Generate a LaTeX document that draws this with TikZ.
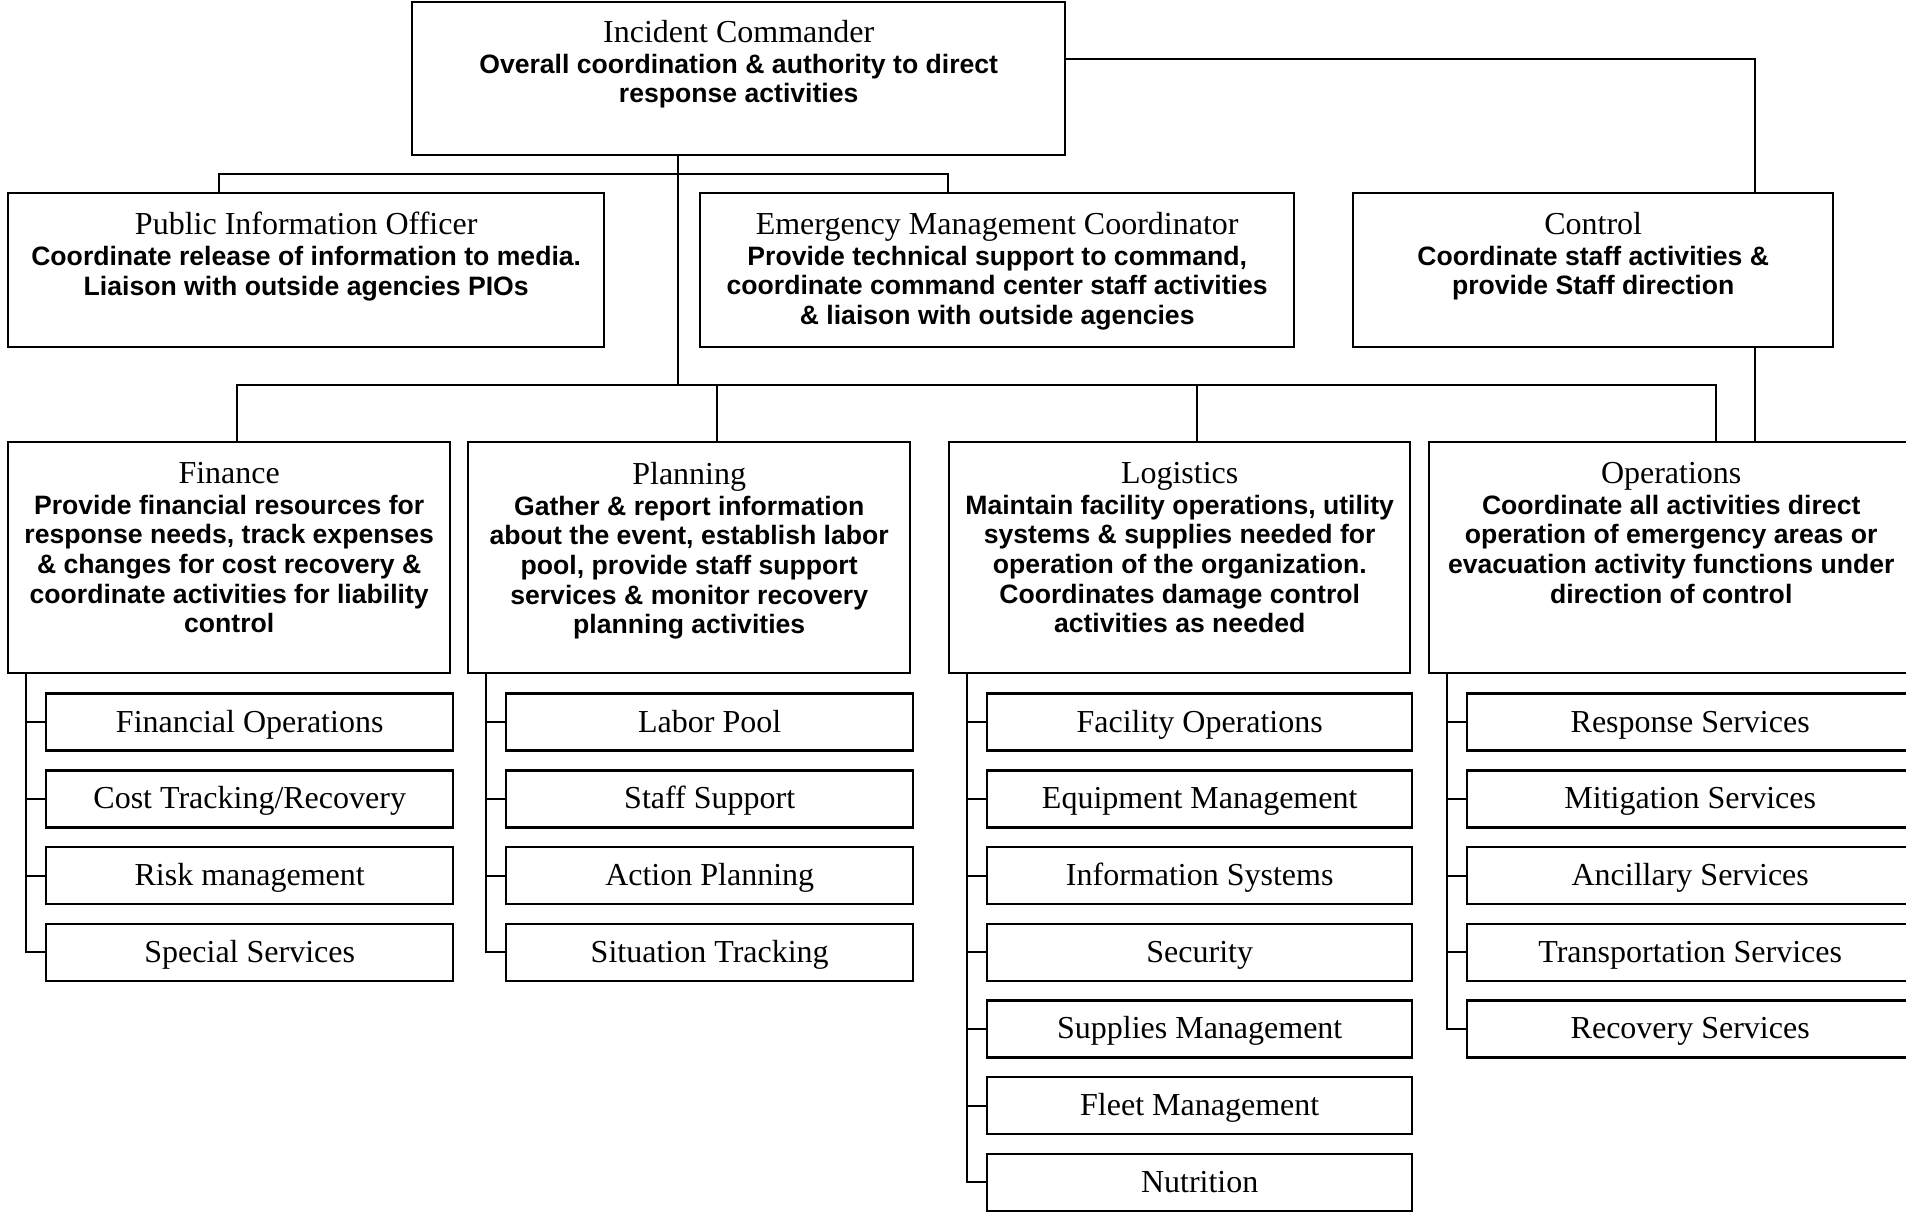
\documentclass[tikz,border=0pt]{standalone}
\usepackage{fontspec}
\setmainfont{Liberation Serif}
\setsansfont{Liberation Sans}
\usetikzlibrary{positioning}

\tikzset{
	unit/.style={draw, line width=1.2pt, inner sep=0pt, anchor=north west},
	subunit/.style={draw, line width=1.2pt, inner sep=0pt, minimum height=28.5pt, text height=11pt, text depth=1pt, anchor=north west, font=\fontsize{16}{16}\selectfont},
	duty/.style={align=center, inner sep=0pt, font=\fontsize{13.3}{14.8}\selectfont\sffamily\bfseries},
	link/.style={line width=1pt}
}
\newcommand\unittitle[1]{{\rmfamily\mdseries\fontsize{16}{14.8}\selectfont #1}\\[0.5pt]}
% parent, width of boxes, number of boxes, names
\newcommand\subunits[4]{%
	\coordinate (#1-bar) at ([xshift=9.5pt]#1.south west);
	\foreach \name [count=\i] in {#4} {
		\node[subunit, minimum width=#2] (#1\i) at ([shift={(19pt,{-9pt-(\i-1)*38.35pt})}]#1.south west) {\name};
		\draw[link] (#1\i.west) -- (#1\i.west -| #1-bar);
	}
	\draw[link] (#1-bar) |- (#1#3.west);
}

\begin{document}
\begin{tikzpicture}[x=0.5pt,y=-0.5pt]
			%%%%% START %%%%%
			\useasboundingbox (0,0) rectangle (1906,1212);
			
			\node[unit, minimum width=326.5pt, minimum height=76.5pt] (ic) at (411,1) {};
			\node[duty, below=9.5pt of ic.north] (ic-txt) {\unittitle{Incident Commander}Overall coordination \& authority to direct\\response activities};
			
			\node[unit, minimum width=298pt, minimum height=77pt] (pio) at (7,192) {};
			\node[duty, below=10pt of pio.north] (pio-txt) {\unittitle{Public Information Officer}Coordinate release of information to media.\\Liaison with outside agencies PIOs};
			
			\node[unit, minimum width=297pt, minimum height=77pt] (emc) at (699,192) {};
			\node[duty, below=10pt of emc.north] (emc-txt) {\unittitle{Emergency Management Coordinator}Provide technical support to command,\\coordinate command center staff activities\\\& liaison with outside agencies};
			
			\node[unit, minimum width=240pt, minimum height=77pt] (ctl) at (1352,192) {};
			\node[duty, below=10pt of ctl.north] (ctl-txt) {\unittitle{Control}Coordinate staff activities \&\\provide Staff direction};
			
			\node[unit, minimum width=221pt, minimum height=115.5pt] (fin) at (7,441) {};
			\node[duty, below=10.5pt of fin.north] (fin-txt) {\unittitle{Finance}Provide financial resources for\\response needs, track expenses\\\& changes for cost recovery \&\\coordinate activities for liability\\control};
			
			\node[unit, minimum width=221pt, minimum height=115.5pt] (pln) at (467,441) {};
			\node[duty, below=10.5pt of pln.north] (pln-txt) {\unittitle{Planning}Gather \& report information\\about the event, establish labor\\pool, provide staff support\\services \& monitor recovery\\planning activities};
			
			\node[unit, minimum width=230.5pt, minimum height=115.5pt] (lgs) at (948,441) {};
			\node[duty, below=10.5pt of lgs.north] (lgs-txt) {\unittitle{Logistics}Maintain facility operations, utility\\systems \& supplies needed for\\operation of the organization.\\Coordinates damage control\\activities as needed};
			
			\node[unit, minimum width=242pt, minimum height=115.5pt] (ops) at (1428,441) {};
			\node[duty, below=10.5pt of ops.north] (ops-txt) {\unittitle{Operations}Coordinate all activities direct\\operation of emergency areas or\\evacuation activity functions under\\direction of control};
			
			% command lines
			\draw[link] ([xshift=106pt]pio.north west) -- ++(0,9pt) -| ([xshift=124.5pt]emc.north west);
			\coordinate (bus) at ([yshift=28pt]fin.north);
			\coordinate (trunk) at ([xshift=133.5pt]ic.south west);
			\draw[link] (trunk) -- (trunk |- bus);
			\draw[link] ([xshift=115pt]fin.north west) -- ++(0,28pt) -| ([xshift=144pt]ops.north west);
			\draw[link] ([xshift=125pt]pln.north west) -- ++(0,28pt);
			\draw[link] ([xshift=124.5pt]lgs.north west) -- ++(0,28pt);
			\draw[link] ([yshift=9.75pt]ic.east) -| ([xshift=81pt]ctl.north);
			\draw[link] ([xshift=81pt]ctl.south) -- ([xshift=81pt]ctl.south |- ops.north);
			
			% sections
			\subunits{fin}{203.5pt}{4}{Financial Operations, Cost Tracking/Recovery, Risk management, Special Services}
			\subunits{pln}{203.5pt}{4}{Labor Pool, Staff Support, Action Planning, Situation Tracking}
			\subunits{lgs}{212.5pt}{7}{Facility Operations, Equipment Management, Information Systems, Security, Supplies Management, Fleet Management, Nutrition}
			\subunits{ops}{223pt}{5}{Response Services, Mitigation Services, Ancillary Services, Transportation Services, Recovery Services}
			%%%%% END %%%%%
\end{tikzpicture}
\end{document}
